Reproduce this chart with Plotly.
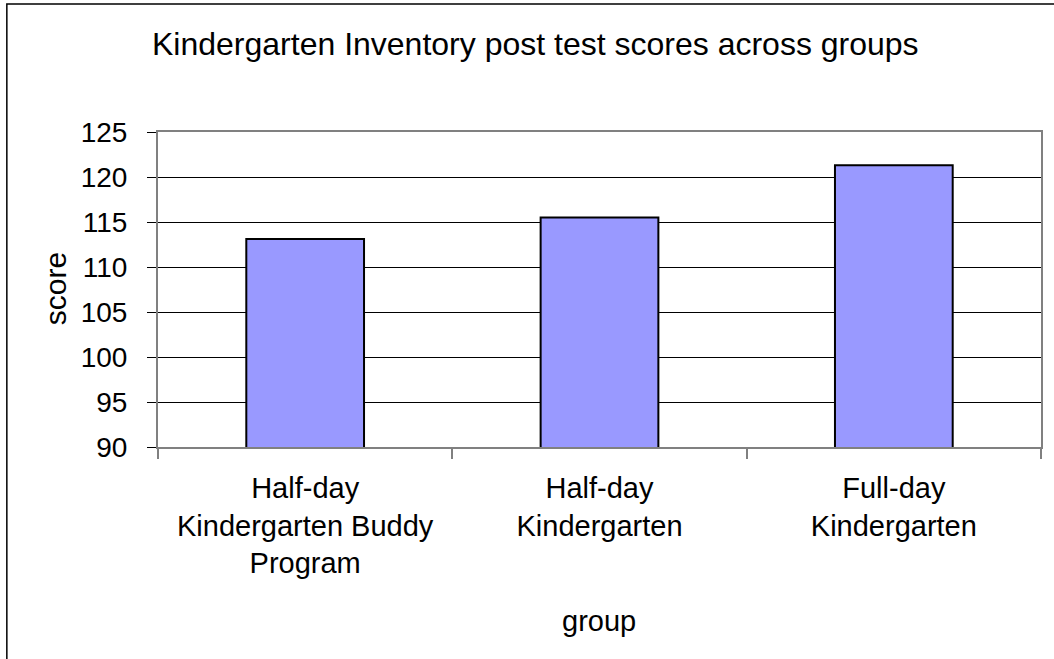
import plotly.graph_objects as go

categories = ["Half-day<br>Kindergarten Buddy<br>Program", "Half-day<br>Kindergarten", "Full-day<br>Kindergarten"]
scores = [113.1, 115.5, 121.3]
y_ticks = [90, 95, 100, 105, 110, 115, 120, 125]

W, H = 1054, 659
L, R, T, B = 158, 1043, 132, 447
pw, ph = R - L, B - T

def px(x):
    return (x - L) / pw

def py(y):
    return (B - y) / ph

FONT = "Liberation Sans, Arial, sans-serif"

fig = go.Figure(go.Bar(
    x=categories, y=scores,
    marker=dict(color="#9999FF", line=dict(color="black", width=2)),
    hoverinfo="x+y",
))

fig.update_layout(
    width=W, height=H,
    margin=dict(l=L, r=W - R, t=T, b=H - B, pad=0),
    paper_bgcolor="white", plot_bgcolor="white",
    bargap=0.6,
    showlegend=False,
    font=dict(family=FONT, color="black", size=29),
    xaxis=dict(
        type="category", tickson="boundaries",
        showline=True, mirror=True, linecolor="#808080", linewidth=2,
        ticks="outside", ticklen=10, tickcolor="#808080", tickwidth=2,
        showgrid=False, tickfont=dict(size=29), ticklabelstandoff=14,
    ),
    yaxis=dict(
        range=[90, 125], tickvals=y_ticks, ticktext=[str(v) for v in y_ticks],
        showline=True, mirror=True, linecolor="#808080", linewidth=2,
        ticks="outside", ticklen=9, tickcolor="black", tickwidth=1,
        showgrid=True, gridcolor="black", gridwidth=1,
        tickfont=dict(size=28), ticklabelstandoff=14, zeroline=False,
    ),
    annotations=[
        dict(text="Kindergarten Inventory post test scores across groups",
             xref="paper", yref="paper", x=px(536), y=py(44),
             xanchor="center", yanchor="middle", showarrow=False,
             font=dict(size=32, family=FONT)),
        dict(text="group", xref="paper", yref="paper", x=px(600), y=py(621),
             xanchor="center", yanchor="middle", showarrow=False,
             font=dict(size=29, family=FONT)),
        dict(text="score", xref="paper", yref="paper", x=px(55), y=py(289),
             xanchor="center", yanchor="middle", showarrow=False, textangle=-90,
             font=dict(size=30, family=FONT)),
    ],
    shapes=[
        dict(type="rect", xref="paper", yref="paper",
             x0=px(6.5), x1=px(1200), y0=py(800), y1=py(4),
             line=dict(color="black", width=1.5), fillcolor="rgba(0,0,0,0)",
             layer="above"),
    ],
)

fig.write_html("out.html", config={"displayModeBar": False},
               post_script="document.body.style.margin='0';")
